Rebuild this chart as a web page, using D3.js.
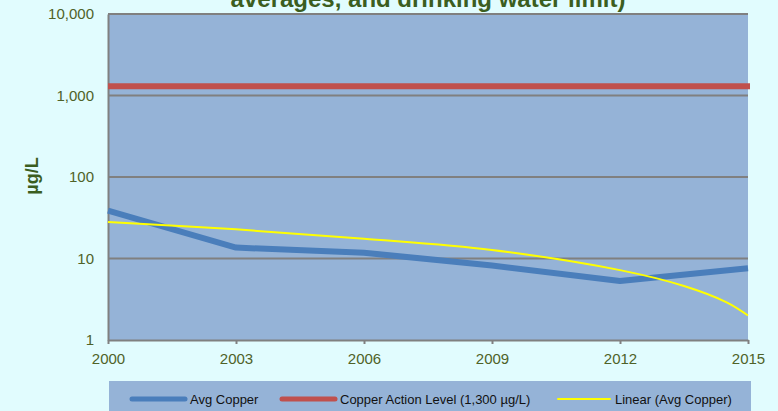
<!DOCTYPE html>
<html>
<head>
<meta charset="utf-8">
<script src="https://cdn.jsdelivr.net/npm/d3@7"></script>
<style>
  html, body { margin: 0; padding: 0; background: #e1fcfe; }
  svg { display: block; font-family: "Liberation Sans", Arial, sans-serif; }
</style>
</head>
<body>
<svg id="chart" width="778" height="411"></svg>
<script>
// Average copper concentration by sampling year (µg/L)
const years = [2000, 2003, 2006, 2009, 2012, 2015];
const avgCopper = [38.6, 13.6, 11.8, 8.2, 5.3, 7.6];
// Drinking water action level for copper (µg/L)
const actionLevel = 1300;
// Linear trend of the average, as read along its course
const trendYears = [2000, 2003, 2006, 2009, 2012, 2013.5, 2014.5, 2015];
const trendValues = [28, 22.8, 17.5, 12.7, 7.2, 4.6, 2.9, 2.0];
// Axis ticks
const yTicks = [1, 10, 100, 1000, 10000];
const xTicks = [2000, 2003, 2006, 2009, 2012, 2015];
const legendLabels = ["Avg Copper", "Copper Action Level (1,300 µg/L)", "Linear (Avg Copper)"];

const svg = d3.select("#chart");
const plot = { left: 108, right: 748, top: 14, bottom: 340 };

const x = d3.scaleLinear().domain([2000, 2015]).range([plot.left, plot.right]);
const y = d3.scaleLog().domain([1, 10000]).range([plot.bottom, plot.top]);

const textColor = "#4f6228";
const titleColor = "#3b5e1f";
const gridColor = "#808080";

// Plot background
svg.append("rect")
  .attr("x", plot.left).attr("y", plot.top)
  .attr("width", plot.right - plot.left).attr("height", plot.bottom - plot.top)
  .attr("fill", "#95b3d7");

// Horizontal gridlines
svg.append("g").selectAll("line").data(yTicks.slice(1)).join("line")
  .attr("x1", plot.left).attr("x2", plot.right)
  .attr("y1", d => y(d)).attr("y2", d => y(d))
  .attr("stroke", gridColor).attr("stroke-width", 2);

// Y axis
const yAxis = svg.append("g")
  .attr("transform", `translate(${plot.left},0)`)
  .call(d3.axisLeft(y).tickValues(yTicks).tickFormat(d3.format(",")).tickSize(0).tickPadding(14));
yAxis.select(".domain").attr("stroke", gridColor).attr("stroke-width", 2);
yAxis.selectAll("text").attr("fill", textColor).style("font-size", "15px");

// X axis
const xAxis = svg.append("g")
  .attr("transform", `translate(0,${plot.bottom})`)
  .call(d3.axisBottom(x).tickValues(xTicks).tickFormat(d3.format("d")).tickSizeOuter(0).tickSizeInner(4).tickPadding(9));
xAxis.select(".domain").attr("stroke", gridColor).attr("stroke-width", 2);
xAxis.selectAll(".tick line").attr("stroke", gridColor).attr("stroke-width", 2);
xAxis.selectAll("text").attr("fill", textColor).style("font-size", "15px");

// Action level line
svg.append("line")
  .attr("x1", plot.left).attr("x2", plot.right + 2)
  .attr("y1", y(actionLevel)).attr("y2", y(actionLevel))
  .attr("stroke", "#c0504d").attr("stroke-width", 6);

// Average copper line
const line = d3.line().x(d => x(d[0])).y(d => y(d[1]));
svg.append("path")
  .datum(years.map((yr, i) => [yr, avgCopper[i]]))
  .attr("d", line)
  .attr("fill", "none").attr("stroke", "#4a7ebb").attr("stroke-width", 6)
  .attr("stroke-linejoin", "round");

// Linear trend line
svg.append("path")
  .datum(trendYears.map((yr, i) => [yr, trendValues[i]]))
  .attr("d", d3.line().x(d => x(d[0])).y(d => y(d[1])).curve(d3.curveCatmullRom.alpha(0.5)))
  .attr("fill", "none").attr("stroke", "#ffff00").attr("stroke-width", 2);

// Y axis title
svg.append("text")
  .attr("transform", "translate(38,176) rotate(-90)")
  .attr("text-anchor", "middle")
  .attr("fill", titleColor).attr("font-weight", "bold").style("font-size", "18px")
  .text("µg/L");

// Chart title (second line)
svg.append("text")
  .attr("x", 428).attr("y", 7)
  .attr("text-anchor", "middle")
  .attr("fill", titleColor).attr("font-weight", "bold").style("font-size", "24px")
  .text("averages, and drinking water limit)");

// Legend
const legend = svg.append("g");
legend.append("rect")
  .attr("x", 109).attr("y", 381).attr("width", 642).attr("height", 40)
  .attr("fill", "#95b3d7");
const legendItems = [
  { x1: 132, x2: 185, color: "#4a7ebb", w: 5 },
  { x1: 282, x2: 335, color: "#c0504d", w: 5 },
  { x1: 558, x2: 610, color: "#ffff00", w: 2 }
];
legendItems.forEach((it, i) => {
  legend.append("line")
    .attr("x1", it.x1).attr("x2", it.x2).attr("y1", 399).attr("y2", 399)
    .attr("stroke", it.color).attr("stroke-width", it.w).attr("stroke-linecap", "round");
  legend.append("text")
    .attr("x", it.x2 + 5).attr("y", 399).attr("dy", "0.35em")
    .attr("fill", "#111").style("font-size", "13px")
    .text(legendLabels[i]);
});
</script>
</body>
</html>
